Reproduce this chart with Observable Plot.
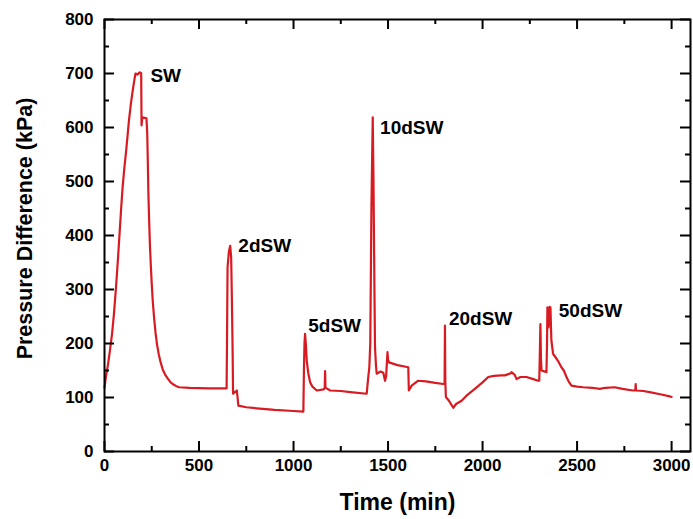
<!DOCTYPE html>
<html>
<head>
<meta charset="utf-8">
<script src="https://cdn.jsdelivr.net/npm/d3@7"></script>
<script src="https://cdn.jsdelivr.net/npm/@observablehq/plot@0.6"></script>
<style>
  html, body { margin: 0; padding: 0; background: white; }
</style>
</head>
<body>
<div id="chart"></div>
<script>
// Time (min)
const time = [0,8,18,28,40,50,60,70,80,88,96,105,114,122,130,140,150,158,164,175,185,194,196,200,222,226,229,232,236,240,245,250,256,263,270,278,287,297,308,320,335,350,365,380,395,450,550,646,648,651,658,665,670,674,678,680,690,700,704,708,750,806,900,1000,1052,1055,1058,1061,1065,1070,1078,1088,1100,1123,1160,1165,1167,1169,1175,1194,1250,1300,1387,1396,1401,1406,1412,1419,1423,1428,1431,1436,1440,1460,1475,1484,1490,1497,1500,1505,1550,1607,1610,1625,1658,1700,1750,1792,1799,1801,1803,1806,1820,1845,1860,1889,1920,1959,2000,2030,2060,2100,2118,2150,2153,2170,2180,2200,2232,2260,2294,2300,2304,2306,2309,2312,2330,2338,2341,2343,2346,2349,2352,2355,2359,2362,2364,2373,2385,2399,2417,2430,2444,2455,2470,2500,2532,2580,2620,2650,2699,2740,2795,2808,2810,2812,2850,2884,2940,2990,3000];
// Pressure difference (kPa)
const pressure = [118,140,160,185,218,255,300,350,405,450,490,525,555,585,615,645,670,688,700,698,702,701,604,619,617,590,540,480,430,385,345,310,275,245,220,198,180,165,152,143,135,128,124,121,119,118,117,117,200,341,370,381,360,280,180,107,110,113,100,85,82,80,77,75,74,150,200,218,200,168,145,128,120,113,115,118,149,118,117,113,112,110,107,140,156,200,450,619,500,300,193,160,144,148,146,131,140,184,170,165,160,156,113,122,131,130,127,125,125,233,130,101,95,81,88,94,105,116,128,138,140,141,141,145,147,142,134,138,138,135,131,131,200,236,170,150,148,147,200,267,265,230,240,268,267,230,206,181,175,168,156,150,138,130,122,120,119,118,116,118,119,116,113,113,125,113,112,110,106,102,101];

// Peak annotations
const labelText = ["SW","2dSW","5dSW","10dSW","20dSW","50dSW"];
const labelTime = [243,708,1078,1458,1822,2403];
const labelValue = [696,381,233,600,246,261];

const xMajor = [0,500,1000,1500,2000,2500,3000];
const xMinor = [250,750,1250,1750,2250,2750];
const yMajor = [0,100,200,300,400,500,600,700,800];
const yMinor = [50,150,250,350,450,550,650,750];

const data = time.map((t, i) => ({t, p: pressure[i]}));
const labels = labelText.map((s, i) => ({s, t: labelTime[i], p: labelValue[i]}));

const W = 693, H = 519, mL = 104, mR = 3, mT = 19, mB = 68;
const innerH = H - mT - mB, innerW = W - mL - mR;
const red = "#d81b22";
const font = "'Liberation Sans', Arial, Helvetica, sans-serif";

const chart = Plot.plot({
  width: W, height: H,
  marginLeft: mL, marginRight: mR, marginTop: mT, marginBottom: mB,
  x: {domain: [0, 3100]},
  y: {domain: [0, 800]},
  style: {fontFamily: font, fontWeight: "bold", background: "white", color: "black"},
  marks: [
    Plot.line(data, {x: "t", y: "p", stroke: red, strokeWidth: 2.2, strokeLinejoin: "round"}),
    Plot.frame({stroke: "black", strokeWidth: 2}),
    // inward ticks: bottom & top
    Plot.tickX(xMajor, {x: d => d, insetTop: innerH - 10, stroke: "black", strokeWidth: 2}),
    Plot.tickX(xMajor, {x: d => d, insetBottom: innerH - 10, stroke: "black", strokeWidth: 2}),
    Plot.tickX(xMinor, {x: d => d, insetTop: innerH - 5, stroke: "black", strokeWidth: 2}),
    Plot.tickX(xMinor, {x: d => d, insetBottom: innerH - 5, stroke: "black", strokeWidth: 2}),
    // inward ticks: left & right
    Plot.tickY(yMajor, {y: d => d, insetRight: innerW - 10, stroke: "black", strokeWidth: 2}),
    Plot.tickY(yMajor, {y: d => d, insetLeft: innerW - 10, stroke: "black", strokeWidth: 2}),
    Plot.tickY(yMinor, {y: d => d, insetRight: innerW - 5, stroke: "black", strokeWidth: 2}),
    Plot.tickY(yMinor, {y: d => d, insetLeft: innerW - 5, stroke: "black", strokeWidth: 2}),
    Plot.axisX({ticks: xMajor, tickSize: 0, tickPadding: 7, label: null, fontSize: 17, fontWeight: "bold", tickFormat: d => String(d)}),
    Plot.axisY({ticks: yMajor, tickSize: 0, tickPadding: 11, label: null, fontSize: 17, fontWeight: "bold", tickFormat: d => String(d)}),
    Plot.text(labels, {x: "t", y: "p", text: "s", textAnchor: "start", fontSize: 19, fontWeight: "bold", fill: "black"}),
    Plot.text(["Time (min)"], {frameAnchor: "bottom", dy: 58, fontSize: 23, fontWeight: "bold", fill: "black"}),
    Plot.text(["Pressure Difference (kPa)"], {frameAnchor: "left", textAnchor: "middle", dx: -79, dy: -7, rotate: -90, fontSize: 21.5, fontWeight: "bold", fill: "black"})
  ]
});
document.getElementById("chart").appendChild(chart);
</script>
</body>
</html>
